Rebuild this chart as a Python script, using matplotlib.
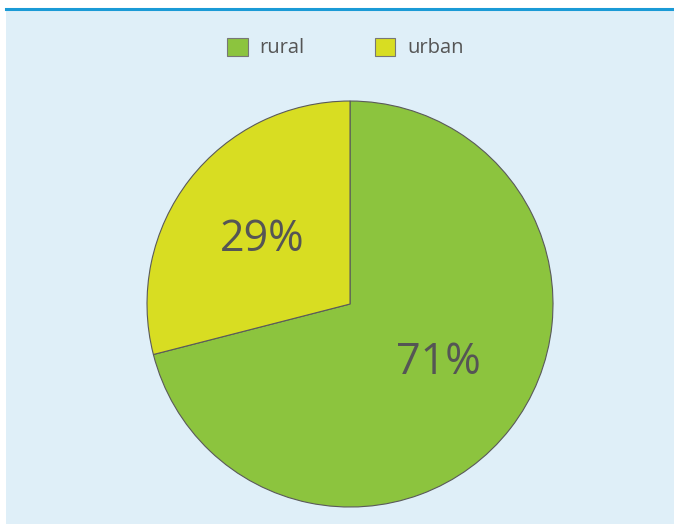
import matplotlib.pyplot as plt
from matplotlib.patches import Rectangle, Patch
from matplotlib.lines import Line2D

categories = ["rural", "urban"]
shares = [71, 29]
colors = ["#8cc43e", "#d8dd22"]

plt.rcParams['font.family'] = ['Open Sans', 'DejaVu Sans']

fig = plt.figure(figsize=(6.74, 5.24), dpi=100)
fig.patch.set_facecolor("white")

# light blue panel with blue rule on top
fig.patches.append(Rectangle((6 / 674, 0), 1 - 6 / 674, 1 - 10 / 524,
                             transform=fig.transFigure, facecolor="#dfeff8",
                             edgecolor="none", zorder=-10))
fig.lines.append(Line2D([6 / 674, 1], [1 - 9 / 524, 1 - 9 / 524],
                        transform=fig.transFigure, color="#1a9ad6", lw=2.2,
                        zorder=-5))

ax = fig.add_axes([0.2181, 0.0324, 0.6024, 0.7748])
ax.set_zorder(1)
ax.set_facecolor("none")
wedges, texts, autotexts = ax.pie(
    shares, colors=colors, startangle=90, counterclock=False,
    autopct='%.0f%%', pctdistance=0.55,
    wedgeprops=dict(edgecolor="#5a5a5a", linewidth=0.8),
    textprops=dict(color="#555555", fontsize=31))
# small nudges so the labels sit where the original has them
for t, dy in zip(autotexts, [0.05, -0.02]):
    x, y = t.get_position()
    t.set_position((x, y + dy))
ax.set_xlim(-1.0, 1.0)
ax.set_ylim(-1.0, 1.0)
ax.set_aspect("equal")

handles = [Patch(facecolor=c, edgecolor="#777777", linewidth=0.8) for c in colors]
fig.legend(handles, categories, loc="center", bbox_to_anchor=(0.513, 1 - 48 / 524),
           ncol=2, frameon=False, fontsize=14.5, handlelength=1.0, handleheight=1.0,
           handletextpad=0.6, columnspacing=3.5, labelcolor="#555555")

fig.savefig("out.png", dpi=100, facecolor=fig.get_facecolor())
